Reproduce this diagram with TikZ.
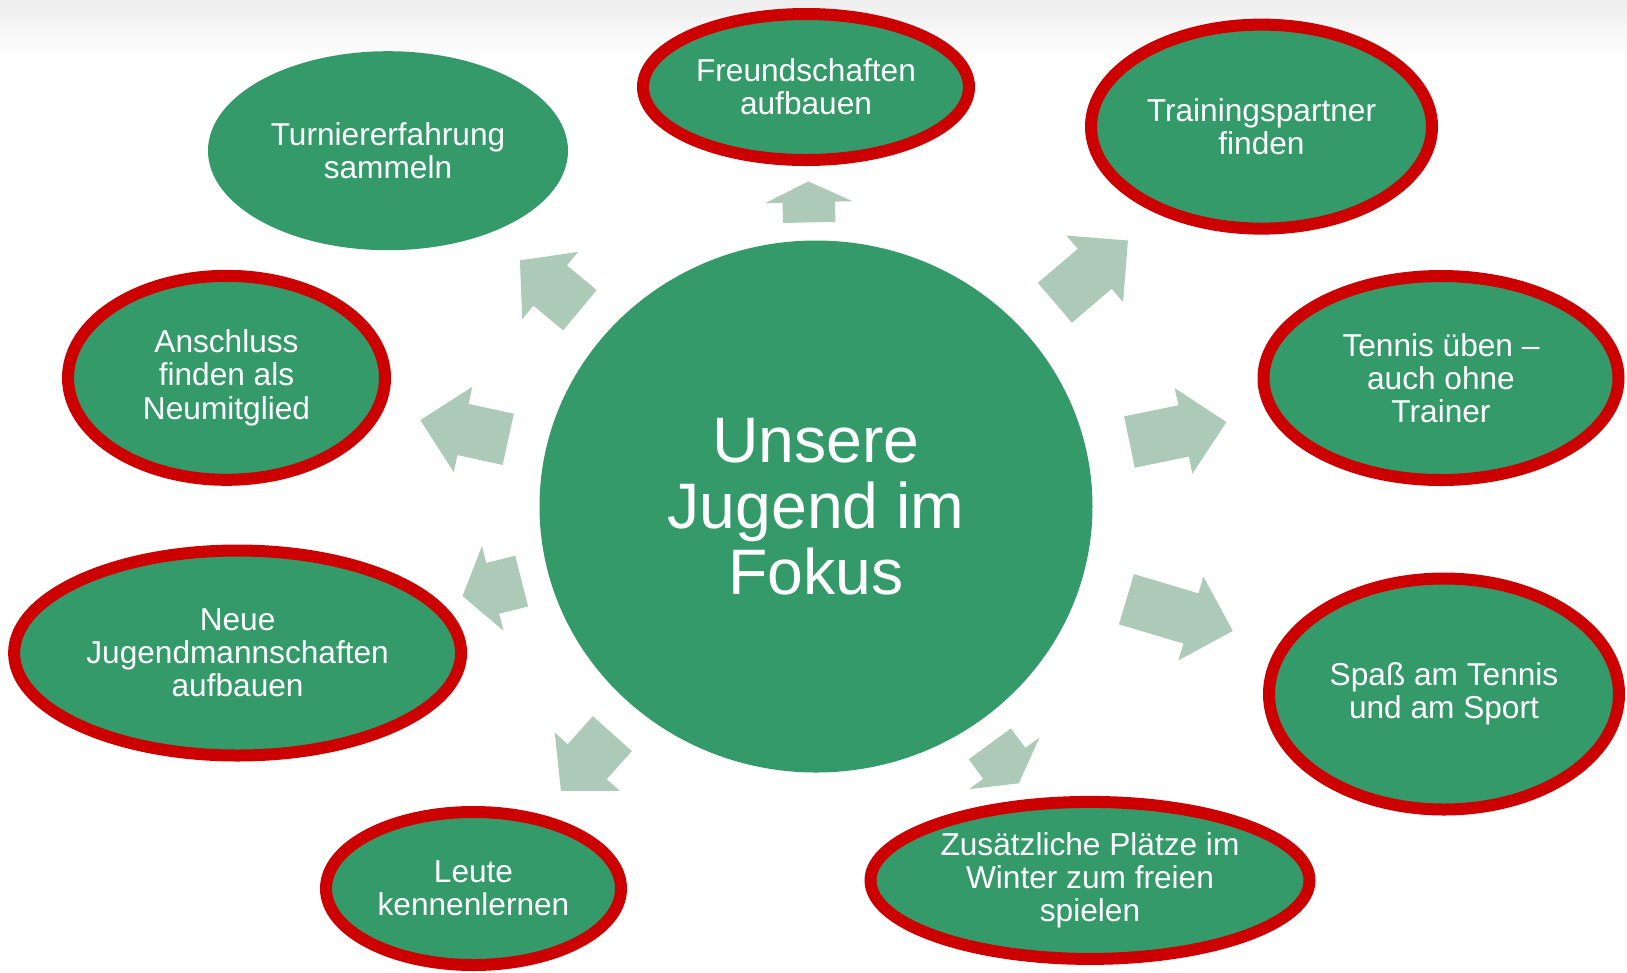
\documentclass[tikz,border=0pt]{standalone}
\usepackage{fontspec}
\setmainfont{Liberation Sans}
\usepackage{tikz}
\usetikzlibrary{shapes.geometric,shapes.arrows,positioning,calc}
\definecolor{jugendgruen}{RGB}{53,154,106}
\definecolor{pfeilgruen}{RGB}{173,202,185}
\definecolor{randrot}{RGB}{204,0,0}
\tikzstyle{kreis}=[ellipse, fill=jugendgruen, text=white, inner sep=0pt, align=center, font=\fontsize{18.3}{18.7}\selectfont]
\tikzstyle{blase}=[ellipse, fill=jugendgruen, text=white, inner sep=0pt, align=center, font=\fontsize{9}{9.4}\selectfont]
\tikzstyle{randblase}=[blase, draw=randrot, line width=1.2mm]
\tikzstyle{pfeil}=[single arrow, fill=pfeilgruen, inner sep=0pt, text height=5.1mm, text depth=0pt, single arrow head extend=1.75mm, anchor=tip]

\begin{document}
\begin{tikzpicture}

\useasboundingbox (0,0) rectangle (16.27,-9.72);

% grauer Schatten oben
\shade[top color=black!7, bottom color=white] (0,0) rectangle (16.27,-0.6);

% Mitte
\node[kreis, minimum width=5.53cm, minimum height=5.32cm] (fokus) at (8.16,-5.065) {Unsere\\Jugend im\\Fokus};

% Ziele
\node[blase, minimum width=3.60cm, minimum height=1.99cm] (turnier) at (3.88,-1.507) {Turniererfahrung\\sammeln};
\node[randblase, minimum width=3.26cm, minimum height=1.46cm] (freund) at (8.06,-0.87) {Freundschaften\\aufbauen};
\node[randblase, minimum width=3.41cm, minimum height=2.04cm] (training) at (12.615,-1.266) {Trainingspartner\\finden};
\node[randblase, minimum width=3.17cm, minimum height=2.04cm] (anschluss) at (2.265,-3.778) {Anschluss\\finden als\\Neumitglied};
\node[randblase, minimum width=3.55cm, minimum height=2.04cm] (tennis) at (14.41,-3.78) {Tennis üben --\\auch ohne\\Trainer};
\node[randblase, minimum width=4.47cm, minimum height=2.05cm] (neue) at (2.376,-6.53) {Neue\\Jugendmannschaften\\aufbauen};
\node[randblase, minimum width=3.50cm, minimum height=2.31cm] (spass) at (14.44,-6.94) {Spaß am Tennis\\und am Sport};
\node[randblase, minimum width=2.95cm, minimum height=1.53cm] (leute) at (4.735,-8.885) {Leute\\kennenlernen};
\node[randblase, minimum width=4.39cm, minimum height=1.57cm] (zusatz) at (10.90,-8.804) {Zusätzliche Plätze im\\Winter zum freien\\spielen};

% Pfeile
\foreach \ziel/\abst/\lang/\spitze in {freund/3.26/0.41/129, training/4.11/0.96/90, turnier/3.86/0.78/96,
  anschluss/4.06/0.90/90, tennis/4.20/0.99/90, spass/4.36/1.11/90, neue/3.655/0.61/109,
  leute/3.83/0.77/96, zusatz/3.44/0.49/121}
  \path let \p1=($(\ziel.center)-(fokus.center)$), \n1={atan2(\y1,\x1)} in
    node[pfeil, rotate=\n1, minimum height=\lang cm, single arrow tip angle=\spitze] at ($(fokus.center)!\abst cm!(\ziel.center)$) {};

\end{tikzpicture}
\end{document}
